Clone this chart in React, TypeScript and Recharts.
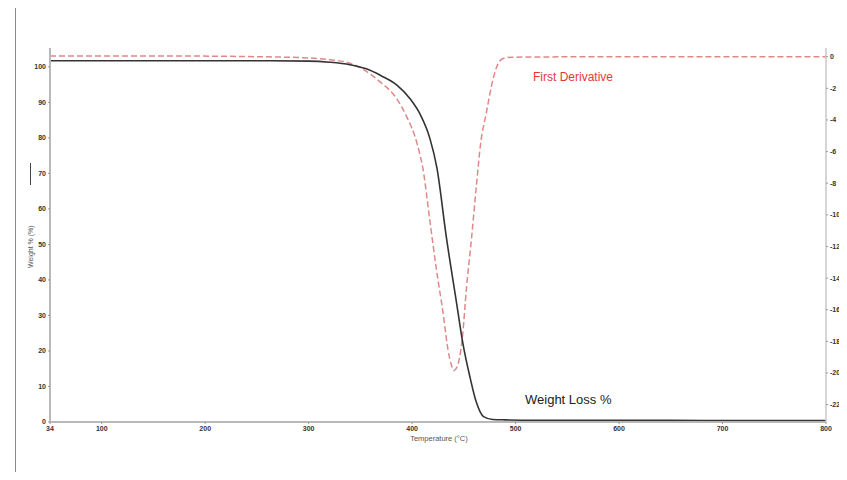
import React from "react";
import { ComposedChart, Line, XAxis, YAxis } from "recharts";

// TGA run: weight % and its first derivative against temperature
const weightTemps = [50, 100, 150, 200, 250, 300, 320, 340, 355, 370, 385, 398, 408, 417, 424, 433, 443, 449, 456, 462, 469, 478, 490, 520, 600, 700, 800];
const weightPct = [101.7, 101.7, 101.7, 101.7, 101.7, 101.6, 101.3, 100.6, 99.5, 97.5, 94.9, 91.0, 86.5, 80.0, 71.5, 52.2, 33.4, 22.2, 12.5, 5.6, 1.5, 0.7, 0.6, 0.5, 0.5, 0.4, 0.4];

const derivTemps = [50, 150, 250, 300, 320.5, 339.9, 352.4, 368.8, 385, 394.6, 404.8, 410.7, 417.1, 423.6, 430, 434.8, 438.1, 440.3, 443.2, 445.7, 448.6, 452.6, 457.5, 462.3, 466, 471.9, 478.3, 482.9, 488, 496.4, 600, 700, 800];
const derivPct = [0.05, 0.05, 0, -0.08, -0.19, -0.41, -0.79, -1.58, -2.65, -3.77, -5.5, -7.18, -10.35, -13.51, -16.25, -18.58, -19.53, -19.84, -19.65, -19.08, -17.73, -14.57, -11.41, -8.03, -5.6, -3.49, -1.38, -0.47, -0.11, -0.03, 0, 0, 0];

const xTicks = [50, 100, 200, 300, 400, 500, 600, 700, 800];
const xTickLabels = ["34", "100", "200", "300", "400", "500", "600", "700", "800"];
const weightTicks = [0, 10, 20, 30, 40, 50, 60, 70, 80, 90, 100];
const derivTicks = [0, -2, -4, -6, -8, -10, -12, -14, -16, -18, -20, -22];

const weightData = weightTemps.map((t, i) => ({ temp: t, weight: weightPct[i] }));
const derivData = derivTemps.map((t, i) => ({ temp: t, deriv: derivPct[i] }));

const FONT = "Arial, 'Liberation Sans', sans-serif";
const tick = { fontSize: 7, fill: "#333", fontWeight: 700, fontFamily: FONT };
const axisLine = { stroke: "#b8b8b8", strokeWidth: 2 };

export default function App() {
  return (
    <div style={{ position: "relative", width: 847, height: 480, margin: -8, overflow: "hidden", background: "#fff" }}>
      <div style={{ position: "absolute", left: 0, top: 0 }}>
        <ComposedChart width={847} height={480} margin={{ top: 48, right: 5, bottom: 38, left: 20 }}>
          <XAxis
            xAxisId="t"
            dataKey="temp"
            type="number"
            domain={[50, 800]}
            ticks={xTicks}
            tickFormatter={(v: number) => xTickLabels[xTicks.indexOf(v)] ?? String(v)}
            tick={tick}
            tickSize={2}
            axisLine={axisLine}
            tickLine={{ stroke: "#999" }}
            height={20}
            allowDataOverflow
          />
          <YAxis
            yAxisId="w"
            orientation="left"
            type="number"
            domain={[0, 105.3]}
            ticks={weightTicks}
            tick={tick}
            tickSize={2}
            axisLine={axisLine}
            tickLine={{ stroke: "#999" }}
            width={30}
            allowDataOverflow
          />
          <YAxis
            yAxisId="d"
            orientation="right"
            type="number"
            domain={[-23.1, 0.55]}
            ticks={derivTicks}
            tick={tick}
            tickSize={2}
            axisLine={{ stroke: "#c8c8c8", strokeWidth: 1.5 }}
            tickLine={{ stroke: "#999" }}
            width={16}
            allowDataOverflow
          />
          <Line
            xAxisId="t"
            yAxisId="d"
            data={derivData}
            dataKey="deriv"
            type="monotone"
            stroke="#e08888"
            strokeWidth={1.5}
            strokeDasharray="6 3"
            dot={false}
            isAnimationActive={false}
          />
          <Line
            xAxisId="t"
            yAxisId="w"
            data={weightData}
            dataKey="weight"
            type="monotone"
            stroke="#333"
            strokeWidth={1.6}
            dot={false}
            isAnimationActive={false}
          />
        </ComposedChart>
      </div>
      <svg width={847} height={480} style={{ position: "absolute", left: 0, top: 0, pointerEvents: "none" }}>
        {/* outer frame, open on the right and bottom */}
        <line x1={15.5} y1={2} x2={15.5} y2={480} stroke="#8c8c8c" strokeWidth={1} />
        <line x1={15} y1={2.5} x2={847} y2={2.5} stroke="#8c8c8c" strokeWidth={1} />
        <text x={533} y={81} fontSize={12} fill="#e53935" fontFamily={FONT}>
          First Derivative
        </text>
        <text x={525} y={404} fontSize={13} fill="#222" fontFamily={FONT}>
          Weight Loss %
        </text>
        <text x={439} y={441} fontSize={7.5} fill="#555" fontFamily={FONT} textAnchor="middle">
          Temperature (°C)
        </text>
        <g transform="translate(33,268) rotate(-90)">
          <text x={0} y={0} fontSize={7} fill="#555" fontFamily={FONT}>
            Weight % (%)
          </text>
          <line x1={83} y1={-2.5} x2={105} y2={-2.5} stroke="#444" strokeWidth={1} />
        </g>
        <g transform="translate(846,290) rotate(-90)">
          <text x={0} y={0} fontSize={7} fill="#555" fontFamily={FONT}>
            Derivative Weight % (%/min)
          </text>
          <line x1={103} y1={-2.5} x2={125} y2={-2.5} stroke="#e08080" strokeWidth={1} strokeDasharray="3 2" />
        </g>
      </svg>
    </div>
  );
}
